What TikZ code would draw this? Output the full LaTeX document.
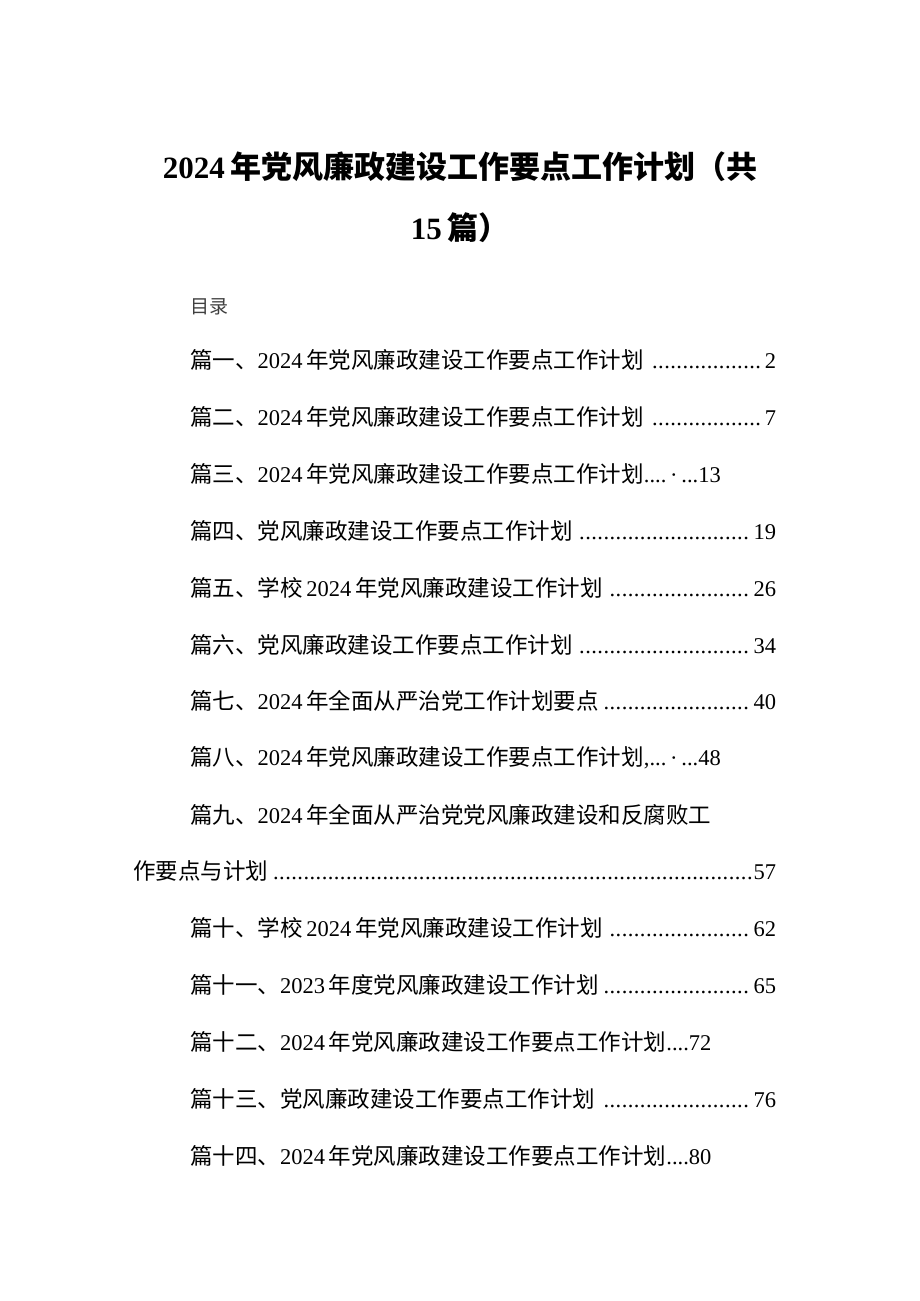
\documentclass[tikz,border=0pt]{standalone}
\usepackage{fontspec}
\setmainfont{Liberation Serif}
\newfontfamily\cjk{Noto Sans CJK SC}
\newcommand{\n}[1]{{\rmfamily #1}}
\newcommand{\ld}{\leaders\hbox to 0.27em{\hss.\hss}\hfill}
\tikzset{
  entry/.style={anchor=west,inner sep=0pt,font=\fontsize{22.5}{24}\selectfont\cjk},
  lead/.style={entry,text width=#1pt,align=left},
  ttl/.style={inner sep=0pt,font=\fontsize{31}{40}\selectfont\cjk\bfseries}
}
\begin{document}
\begin{tikzpicture}[x=1pt,y=-1pt]
\useasboundingbox[fill=white] (0,0) rectangle (920,1301);
\node[ttl] (t1) at (460,167) {\n{\bfseries 2024\,}年党风廉政建设工作要点工作计划（共};
\node[ttl] (t2) at (460,228) {\n{\bfseries 15\,}篇）};
\node[entry,font=\fontsize{19}{22}\selectfont\cjk\color{black!75}] (ml) at (190,307) {目录};
\node[lead=586] (e1) at (190,360) {篇一、\n{2024\,}年党风廉政建设工作要点工作计划\n{\,\ld2}};
\node[lead=586] (e2) at (190,417) {篇二、\n{2024\,}年党风廉政建设工作要点工作计划\n{\,\ld7}};
\node[entry] (e3) at (190,474) {篇三、\n{2024\,}年党风廉政建设工作要点工作计划\n{....\,·\,...13}};
\node[lead=586] (e4) at (190,531) {篇四、党风廉政建设工作要点工作计划\n{\,\ld19}};
\node[lead=586] (e5) at (190,588) {篇五、学校\,\n{2024\,}年党风廉政建设工作计划\n{\,\ld26}};
\node[lead=586] (e6) at (190,645) {篇六、党风廉政建设工作要点工作计划\n{\,\ld34}};
\node[lead=586] (e7) at (190,701) {篇七、\n{2024\,}年全面从严治党工作计划要点\n{\,\ld40}};
\node[entry] (e8) at (190,758) {篇八、\n{2024\,}年党风廉政建设工作要点工作计划\n{,...\,·\,...48}};
\node[entry] (e9) at (190,815) {篇九、\n{2024\,}年全面从严治党党风廉政建设和反腐败工};
\node[lead=643] (e9b) at (133,871) {作要点与计划\n{\,\ld57}};
\node[lead=586] (e10) at (190,928) {篇十、学校\,\n{2024\,}年党风廉政建设工作计划\n{\,\ld62}};
\node[lead=586] (e11) at (190,985) {篇十一、\n{2023\,}年度党风廉政建设工作计划\n{\,\ld65}};
\node[entry] (e12) at (190,1042) {篇十二、\n{2024\,}年党风廉政建设工作要点工作计划\n{....72}};
\node[lead=586] (e13) at (190,1099) {篇十三、党风廉政建设工作要点工作计划\n{\,\ld76}};
\node[entry] (e14) at (190,1156) {篇十四、\n{2024\,}年党风廉政建设工作要点工作计划\n{....80}};
\end{tikzpicture}
\end{document}
